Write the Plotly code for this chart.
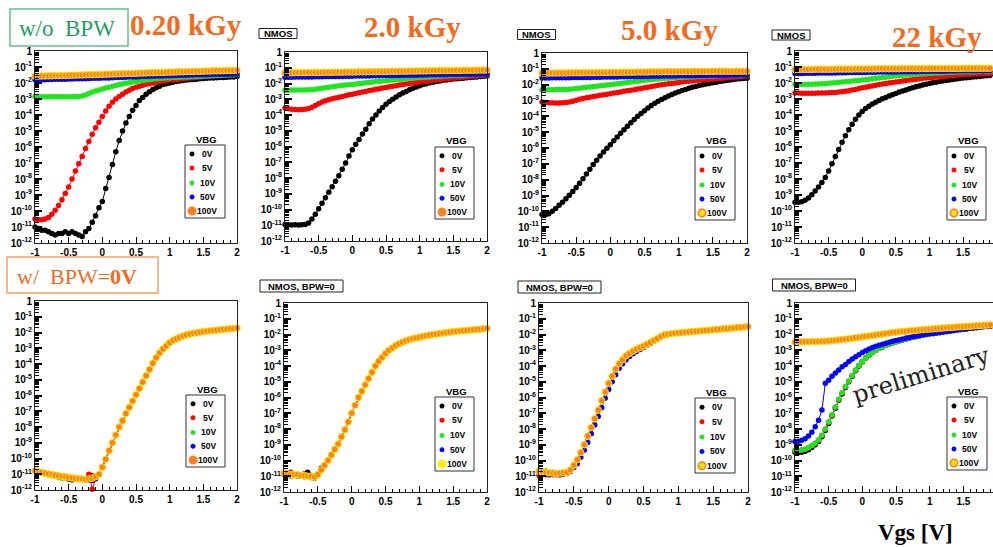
import plotly.graph_objects as go

# ---------------- data (log10 of drain current, per VBG) ----------------
VGS = [-1.0, -0.95, -0.9, -0.85, -0.8, -0.75, -0.7, -0.65, -0.6, -0.55,
       -0.5, -0.45, -0.4, -0.35, -0.3, -0.25, -0.2, -0.15, -0.1, -0.05,
       0.0, 0.05, 0.1, 0.15, 0.2, 0.25, 0.3, 0.35, 0.4, 0.45,
       0.5, 0.55, 0.6, 0.65, 0.7, 0.75, 0.8, 0.85, 0.9, 0.95,
       1.0, 1.05, 1.1, 1.15, 1.2, 1.25, 1.3, 1.35, 1.4, 1.45,
       1.5, 1.55, 1.6, 1.65, 1.7, 1.75, 1.8, 1.85, 1.9, 1.95, 2.0]
VBG = ["0V", "5V", "10V", "50V", "100V"]
Y_TICK_EXP = [0, -1, -2, -3, -4, -5, -6, -7, -8, -9, -10, -11, -12]
X_TICKS = [-1, -0.5, 0, 0.5, 1, 1.5, 2]
X_TICK_TEXT = ["-1", "-0.5", "0", "0.5", "1", "1.5", "2"]

# --- top row: w/o BPW ---
T1_0V = [-11.0, -11.1, -11.2, -11.2, -11.3, -11.4, -11.5, -11.4, -11.4, -11.3,
         -11.4, -11.3, -11.4, -11.5, -11.6, -11.3, -11.1, -10.7, -10.3, -9.8,
         -9.4, -8.6, -7.9, -7.1, -6.3, -5.6, -5.0, -4.5, -4.1, -3.7,
         -3.4, -3.1, -2.9, -2.7, -2.55, -2.4, -2.3, -2.2, -2.1, -2.05,
         -2.0, -1.95, -1.9, -1.88, -1.85, -1.82, -1.8, -1.78, -1.76, -1.74,
         -1.72, -1.7, -1.69, -1.68, -1.67, -1.66, -1.65, -1.64, -1.63, -1.62, -1.6]
T1_5V = [-10.5, -10.55, -10.55, -10.5, -10.4, -10.2, -9.95, -9.65, -9.3, -8.9,
         -8.5, -8.0, -7.5, -7.05, -6.6, -6.1, -5.65, -5.2, -4.8, -4.45,
         -4.1, -3.75, -3.45, -3.2, -3.0, -2.85, -2.7, -2.57, -2.45, -2.35,
         -2.26, -2.2, -2.14, -2.08, -2.04, -2.0, -1.96, -1.92, -1.88, -1.85,
         -1.82, -1.8, -1.78, -1.75, -1.73, -1.71, -1.69, -1.67, -1.65, -1.63,
         -1.61, -1.6, -1.58, -1.57, -1.55, -1.54, -1.52, -1.51, -1.5, -1.48, -1.47]
T1_10V = [-2.85, -2.86, -2.86, -2.86, -2.86, -2.86, -2.86, -2.86, -2.86, -2.86,
          -2.86, -2.86, -2.85, -2.85, -2.82, -2.75, -2.65, -2.57, -2.5, -2.43,
          -2.37, -2.31, -2.26, -2.2, -2.15, -2.1, -2.06, -2.02, -1.98, -1.94,
          -1.9, -1.87, -1.84, -1.81, -1.78, -1.76, -1.74, -1.72, -1.7, -1.69,
          -1.68, -1.66, -1.65, -1.64, -1.63, -1.62, -1.61, -1.6, -1.59, -1.58,
          -1.57, -1.56, -1.55, -1.54, -1.53, -1.52, -1.51, -1.5, -1.49, -1.48, -1.47]
T1_50V = [-1.80, -1.80, -1.79, -1.79, -1.78, -1.78, -1.77, -1.77, -1.76, -1.76,
          -1.75, -1.75, -1.74, -1.74, -1.73, -1.73, -1.72, -1.71, -1.71, -1.70,
          -1.69, -1.68, -1.68, -1.67, -1.66, -1.65, -1.65, -1.64, -1.63, -1.62,
          -1.62, -1.61, -1.60, -1.59, -1.59, -1.58, -1.57, -1.56, -1.56, -1.55,
          -1.54, -1.54, -1.53, -1.52, -1.52, -1.51, -1.50, -1.50, -1.49, -1.49,
          -1.48, -1.48, -1.47, -1.47, -1.46, -1.46, -1.45, -1.45, -1.44, -1.44, -1.43]
T1_100V = [-1.57, -1.57, -1.56, -1.56, -1.55, -1.55, -1.54, -1.54, -1.53, -1.53,
           -1.52, -1.51, -1.51, -1.50, -1.50, -1.49, -1.48, -1.48, -1.47, -1.46,
           -1.46, -1.45, -1.44, -1.44, -1.43, -1.42, -1.42, -1.41, -1.40, -1.40,
           -1.39, -1.38, -1.38, -1.37, -1.36, -1.36, -1.35, -1.34, -1.34, -1.33,
           -1.32, -1.32, -1.31, -1.30, -1.30, -1.29, -1.28, -1.28, -1.27, -1.27,
           -1.26, -1.25, -1.25, -1.24, -1.24, -1.23, -1.23, -1.22, -1.22, -1.21, -1.20]

T2_0V = [-10.95, -10.97, -10.98, -10.97, -10.98, -10.97, -10.95, -10.85, -10.6, -10.3,
         -9.95, -9.6, -9.25, -8.9, -8.55, -8.2, -7.85, -7.45, -7.05, -6.6,
         -6.2, -5.85, -5.55, -5.2, -4.9, -4.55, -4.25, -4.0, -3.75, -3.52,
         -3.32, -3.15, -3.0, -2.85, -2.72, -2.6, -2.5, -2.4, -2.3, -2.22,
         -2.14, -2.07, -2.01, -1.96, -1.92, -1.88, -1.84, -1.8, -1.77, -1.74,
         -1.72, -1.7, -1.68, -1.66, -1.64, -1.62, -1.6, -1.58, -1.56, -1.54, -1.52]
T2_5V = [-3.55, -3.6, -3.63, -3.65, -3.66, -3.65, -3.63, -3.58, -3.5, -3.4,
         -3.28, -3.18, -3.1, -3.03, -2.97, -2.92, -2.87, -2.82, -2.77, -2.72,
         -2.68, -2.63, -2.58, -2.54, -2.5, -2.45, -2.41, -2.37, -2.33, -2.29,
         -2.25, -2.21, -2.17, -2.14, -2.1, -2.07, -2.03, -2.0, -1.97, -1.94,
         -1.91, -1.88, -1.85, -1.82, -1.8, -1.77, -1.75, -1.72, -1.7, -1.68,
         -1.66, -1.64, -1.62, -1.6, -1.58, -1.56, -1.54, -1.52, -1.5, -1.48, -1.46]
T2_10V = [-2.43, -2.43, -2.42, -2.42, -2.42, -2.41, -2.41, -2.4, -2.39, -2.36,
          -2.33, -2.3, -2.27, -2.24, -2.21, -2.18, -2.15, -2.12, -2.1, -2.08,
          -2.06, -2.03, -2.0, -1.98, -1.95, -1.93, -1.9, -1.88, -1.86, -1.84,
          -1.82, -1.8, -1.78, -1.76, -1.74, -1.72, -1.7, -1.68, -1.66, -1.64,
          -1.62, -1.61, -1.6, -1.58, -1.57, -1.56, -1.55, -1.53, -1.52, -1.51,
          -1.5, -1.49, -1.48, -1.47, -1.46, -1.45, -1.44, -1.43, -1.42, -1.41, -1.4]
T2_50V = [-1.60, -1.60, -1.60, -1.59, -1.59, -1.59, -1.58, -1.58, -1.58, -1.57,
          -1.57, -1.57, -1.56, -1.56, -1.56, -1.55, -1.55, -1.55, -1.54, -1.54,
          -1.54, -1.53, -1.53, -1.52, -1.52, -1.52, -1.51, -1.51, -1.51, -1.50,
          -1.50, -1.50, -1.49, -1.49, -1.49, -1.48, -1.48, -1.47, -1.47, -1.47,
          -1.46, -1.46, -1.46, -1.45, -1.45, -1.45, -1.44, -1.44, -1.44, -1.43,
          -1.43, -1.43, -1.42, -1.42, -1.42, -1.41, -1.41, -1.41, -1.40, -1.40, -1.40]
T2_100V = [-1.32, -1.32, -1.32, -1.31, -1.31, -1.31, -1.31, -1.30, -1.30, -1.30,
           -1.30, -1.29, -1.29, -1.29, -1.29, -1.28, -1.28, -1.28, -1.27, -1.27,
           -1.27, -1.27, -1.26, -1.26, -1.26, -1.25, -1.25, -1.25, -1.24, -1.24,
           -1.24, -1.23, -1.23, -1.23, -1.22, -1.22, -1.22, -1.21, -1.21, -1.21,
           -1.20, -1.20, -1.20, -1.19, -1.19, -1.19, -1.18, -1.18, -1.18, -1.17,
           -1.17, -1.17, -1.17, -1.16, -1.16, -1.16, -1.16, -1.15, -1.15, -1.15, -1.15]

T3_0V = [-10.2, -10.22, -10.15, -10.0, -9.82, -9.62, -9.42, -9.2, -8.98, -8.75,
         -8.5, -8.22, -7.95, -7.65, -7.35, -7.05, -6.77, -6.5, -6.25, -6.02,
         -5.8, -5.55, -5.3, -5.07, -4.85, -4.62, -4.4, -4.2, -4.0, -3.82,
         -3.65, -3.48, -3.32, -3.18, -3.05, -2.93, -2.82, -2.72, -2.62, -2.53,
         -2.45, -2.37, -2.3, -2.23, -2.17, -2.11, -2.06, -2.01, -1.96, -1.92,
         -1.88, -1.84, -1.8, -1.77, -1.74, -1.71, -1.68, -1.65, -1.63, -1.61, -1.59]
T3_5V = [-3.1, -3.12, -3.14, -3.15, -3.16, -3.16, -3.15, -3.13, -3.1, -3.05,
         -2.98, -2.92, -2.87, -2.83, -2.79, -2.75, -2.71, -2.67, -2.63, -2.6,
         -2.57, -2.53, -2.49, -2.46, -2.42, -2.39, -2.35, -2.32, -2.28, -2.25,
         -2.2, -2.16, -2.12, -2.08, -2.04, -2.01, -1.98, -1.95, -1.92, -1.89,
         -1.86, -1.83, -1.8, -1.78, -1.76, -1.74, -1.72, -1.7, -1.68, -1.66,
         -1.65, -1.63, -1.61, -1.59, -1.57, -1.55, -1.53, -1.51, -1.49, -1.47, -1.45]
T3_10V = [-2.33, -2.33, -2.32, -2.32, -2.31, -2.31, -2.3, -2.3, -2.29, -2.27,
          -2.25, -2.22, -2.2, -2.17, -2.15, -2.12, -2.1, -2.07, -2.05, -2.02,
          -2.0, -1.98, -1.95, -1.92, -1.89, -1.86, -1.83, -1.8, -1.78, -1.75,
          -1.72, -1.7, -1.68, -1.66, -1.64, -1.62, -1.6, -1.59, -1.58, -1.57,
          -1.55, -1.54, -1.53, -1.52, -1.51, -1.5, -1.49, -1.48, -1.47, -1.46,
          -1.45, -1.44, -1.43, -1.42, -1.42, -1.41, -1.4, -1.4, -1.39, -1.38, -1.38]
T3_50V = [-1.58, -1.58, -1.58, -1.57, -1.57, -1.57, -1.56, -1.56, -1.56, -1.55,
          -1.55, -1.55, -1.54, -1.54, -1.54, -1.53, -1.53, -1.53, -1.52, -1.52,
          -1.52, -1.51, -1.51, -1.50, -1.50, -1.50, -1.49, -1.49, -1.49, -1.48,
          -1.48, -1.48, -1.47, -1.47, -1.47, -1.46, -1.46, -1.45, -1.45, -1.45,
          -1.44, -1.44, -1.44, -1.43, -1.43, -1.43, -1.42, -1.42, -1.42, -1.41,
          -1.41, -1.41, -1.40, -1.40, -1.40, -1.39, -1.39, -1.39, -1.38, -1.38, -1.38]
T3_100V = [-1.27, -1.27, -1.27, -1.27, -1.26, -1.26, -1.26, -1.26, -1.25, -1.25,
           -1.25, -1.25, -1.24, -1.24, -1.24, -1.24, -1.23, -1.23, -1.23, -1.23,
           -1.22, -1.22, -1.22, -1.22, -1.21, -1.21, -1.21, -1.21, -1.20, -1.20,
           -1.20, -1.20, -1.19, -1.19, -1.19, -1.19, -1.18, -1.18, -1.18, -1.18,
           -1.17, -1.17, -1.17, -1.17, -1.17, -1.16, -1.16, -1.16, -1.16, -1.16,
           -1.16, -1.15, -1.15, -1.15, -1.15, -1.15, -1.15, -1.15, -1.15, -1.15, -1.15]

T4_0V = [-9.45, -9.46, -9.42, -9.33, -9.18, -8.98, -8.75, -8.5, -8.22, -7.9,
         -7.5, -7.05, -6.6, -6.15, -5.7, -5.3, -4.92, -4.58, -4.27, -4.0,
         -3.78, -3.6, -3.45, -3.32, -3.2, -3.09, -2.99, -2.9, -2.81, -2.73,
         -2.65, -2.57, -2.5, -2.43, -2.36, -2.3, -2.24, -2.18, -2.13, -2.08,
         -2.03, -1.99, -1.95, -1.91, -1.87, -1.84, -1.81, -1.78, -1.75, -1.72,
         -1.69, -1.67, -1.65, -1.63, -1.61, -1.59, -1.57, -1.55, -1.53, -1.51, -1.5]
T4_5V = [-2.62, -2.63, -2.64, -2.64, -2.64, -2.64, -2.64, -2.63, -2.63, -2.62,
         -2.61, -2.6, -2.59, -2.57, -2.55, -2.52, -2.48, -2.44, -2.4, -2.35,
         -2.3, -2.26, -2.22, -2.18, -2.14, -2.1, -2.06, -2.03, -2.0, -1.97,
         -1.94, -1.91, -1.88, -1.85, -1.82, -1.79, -1.76, -1.73, -1.71, -1.69,
         -1.67, -1.65, -1.63, -1.61, -1.59, -1.57, -1.55, -1.53, -1.51, -1.49,
         -1.47, -1.46, -1.45, -1.44, -1.43, -1.42, -1.41, -1.4, -1.39, -1.38, -1.37]
T4_10V = [-2.08, -2.09, -2.09, -2.09, -2.08, -2.08, -2.07, -2.06, -2.05, -2.04,
          -2.02, -2.0, -1.98, -1.96, -1.94, -1.92, -1.9, -1.88, -1.86, -1.84,
          -1.81, -1.79, -1.76, -1.73, -1.71, -1.68, -1.66, -1.64, -1.61, -1.58,
          -1.55, -1.53, -1.51, -1.5, -1.48, -1.47, -1.45, -1.44, -1.43, -1.42,
          -1.4, -1.39, -1.38, -1.37, -1.36, -1.35, -1.34, -1.33, -1.32, -1.31,
          -1.3, -1.3, -1.29, -1.29, -1.28, -1.28, -1.27, -1.27, -1.26, -1.26, -1.25]
T4_50V = [-1.40, -1.40, -1.40, -1.39, -1.39, -1.39, -1.39, -1.38, -1.38, -1.38,
          -1.37, -1.37, -1.37, -1.36, -1.36, -1.36, -1.35, -1.35, -1.35, -1.34,
          -1.34, -1.34, -1.33, -1.33, -1.33, -1.32, -1.32, -1.32, -1.31, -1.31,
          -1.31, -1.30, -1.30, -1.30, -1.29, -1.29, -1.29, -1.28, -1.28, -1.28,
          -1.27, -1.27, -1.27, -1.26, -1.26, -1.26, -1.25, -1.25, -1.25, -1.24,
          -1.24, -1.24, -1.24, -1.23, -1.23, -1.23, -1.23, -1.22, -1.22, -1.22, -1.22]
T4_100V = [-1.15, -1.15, -1.15, -1.15, -1.15, -1.15, -1.14, -1.14, -1.14, -1.14,
           -1.14, -1.14, -1.13, -1.13, -1.13, -1.13, -1.13, -1.13, -1.12, -1.12,
           -1.12, -1.12, -1.12, -1.12, -1.12, -1.11, -1.11, -1.11, -1.11, -1.11,
           -1.11, -1.11, -1.10, -1.10, -1.10, -1.10, -1.10, -1.10, -1.10, -1.10,
           -1.09, -1.09, -1.09, -1.09, -1.09, -1.09, -1.09, -1.09, -1.09, -1.09,
           -1.08, -1.08, -1.08, -1.08, -1.08, -1.08, -1.08, -1.08, -1.08, -1.08, -1.08]

# --- bottom row: BPW = 0 V ---
# panel 1: Vgs -1..0 per VBG, then the common part 0.05..2
B1_LOW_0V = [-10.8, -10.85, -10.9, -10.95, -11.0, -11.05, -11.1, -11.12, -11.15, -11.2,
             -11.3, -11.35, -11.3, -11.28, -11.3, -11.32, -11.28, -11.1, -11.2, -11.0, -10.55]
B1_LOW_5V = [-10.75, -10.8, -10.9, -10.92, -11.0, -11.02, -11.1, -11.1, -11.15, -11.2,
             -11.22, -11.25, -11.28, -11.3, -11.28, -11.3, -11.0, -11.95, -11.3, -11.0, -10.55]
B1_LOW_10V = [-10.8, -10.88, -10.92, -10.98, -11.05, -11.1, -11.15, -11.2, -11.25, -11.22,
              -11.2, -11.3, -11.3, -11.35, -11.32, -11.35, -11.3, -11.25, -11.2, -11.0, -10.55]
B1_LOW_50V = [-10.8, -10.85, -10.88, -10.9, -10.95, -11.0, -11.05, -11.08, -11.12, -11.15,
              -11.25, -11.28, -11.3, -11.3, -11.33, -11.35, -11.38, -11.4, -11.25, -11.0, -10.55]
B1_LOW_100V = [-10.76, -10.82, -10.88, -10.93, -10.98, -11.02, -11.06, -11.1, -11.13, -11.16,
               -11.2, -11.23, -11.26, -11.28, -11.3, -11.32, -11.3, -11.25, -11.15, -11.0, -10.55]
B1_RISE = [-10.05, -9.5, -9.0, -8.5, -8.0, -7.6, -7.15, -6.75, -6.35, -5.95,
           -5.55, -5.15, -4.75, -4.35, -3.95, -3.6, -3.3, -3.05, -2.85, -2.65,
           -2.5, -2.4, -2.3, -2.22, -2.15, -2.1, -2.05, -2.02, -1.98, -1.95,
           -1.92, -1.9, -1.87, -1.85, -1.82, -1.8, -1.78, -1.76, -1.74, -1.72]

# panel 2: Vgs -1..-0.45 per VBG, then common -0.4..2
B2_LOW_0V = [-10.85, -10.8, -10.95, -10.9, -10.95, -10.9, -10.85, -10.75, -10.95, -11.0, -10.95, -10.6]
B2_LOW_5V = [-10.75, -10.9, -10.75, -10.95, -10.9, -11.0, -10.9, -10.95, -11.05, -11.0, -10.9, -10.6]
B2_LOW_10V = [-10.9, -10.95, -11.0, -10.95, -11.0, -11.0, -11.05, -11.0, -11.1, -11.15, -10.95, -10.6]
B2_LOW_50V = [-10.85, -10.9, -10.95, -10.9, -10.95, -10.98, -11.0, -11.02, -11.05, -11.1, -10.85, -10.5]
B2_LOW_100V = [-10.8, -10.85, -10.9, -10.9, -10.9, -10.95, -10.95, -11.0, -11.0, -11.05, -10.9, -10.6]
B2_RISE = [-10.3, -10.0, -9.65, -9.3, -8.95, -8.5, -8.05, -7.55,
           -7.0, -6.5, -6.0, -5.6, -5.2, -4.8, -4.4, -4.0, -3.7, -3.45,
           -3.2, -3.0, -2.85, -2.7, -2.58, -2.48, -2.4, -2.33, -2.27, -2.22,
           -2.17, -2.12, -2.08, -2.04, -2.0, -1.97, -1.94, -1.91, -1.88, -1.85,
           -1.82, -1.8, -1.78, -1.76, -1.74, -1.72, -1.7, -1.68, -1.66, -1.64, -1.62]

# panel 3: Vgs -1..-0.55 per VBG, then -0.5..2
B3_LOW_0V = [-10.75, -10.8, -10.7, -10.85, -10.8, -10.85, -10.9, -10.8, -10.8, -10.65]
B3_LOW_5V = [-10.95, -10.85, -10.9, -10.8, -10.9, -10.85, -10.9, -10.85, -10.8, -10.65]
B3_LOW_10V = [-10.6, -10.7, -10.65, -10.8, -10.75, -10.85, -10.8, -10.8, -10.75, -10.6]
B3_LOW_50V = [-10.8, -10.85, -10.85, -10.9, -10.88, -10.9, -10.88, -10.85, -10.82, -10.7]
B3_LOW_100V = [-10.7, -10.72, -10.75, -10.78, -10.8, -10.82, -10.8, -10.78, -10.75, -10.6]
B3_RISE = [-10.3, -9.95, -9.5, -9.0, -8.45, -7.9, -7.35, -6.8, -6.2, -5.65,
           -5.1, -4.65, -4.2, -3.85, -3.6, -3.35, -3.2, -3.05, -2.93, -2.83,
           -2.73, -2.62, -2.5, -2.38, -2.26, -2.12, -2.02, -1.98, -1.95, -1.92,
           -1.9, -1.88, -1.86, -1.84, -1.82, -1.8, -1.78, -1.76, -1.74, -1.72,
           -1.7, -1.68, -1.66, -1.64, -1.62, -1.6, -1.58, -1.56, -1.54, -1.52, -1.5]
B3_RISE_50V = [-10.45, -10.2, -9.8, -9.35, -8.85, -8.3, -7.75, -7.2, -6.65, -6.05,
               -5.5, -5.0, -4.55, -4.15, -3.85, -3.6, -3.4, -3.22, -3.08, -2.95,
               -2.83, -2.7, -2.57, -2.43, -2.3, -2.16, -2.05, -2.0, -1.97, -1.94,
               -1.91, -1.89, -1.87, -1.85, -1.83, -1.81, -1.79, -1.77, -1.75, -1.73,
               -1.71, -1.69, -1.67, -1.65, -1.63, -1.61, -1.59, -1.57, -1.55, -1.53, -1.51]

# panel 4 (preliminary)
B4_LOW_0V = [-9.48, -9.5, -9.47, -9.42, -9.32, -9.18, -9.0, -8.8, -8.5, -8.1,
             -7.65, -7.18, -6.68, -6.18, -5.77, -5.37, -5.0, -4.65, -4.3, -4.0, -3.73]
B4_LOW_5V = [-9.38, -9.37, -9.35, -9.3, -9.2, -9.07, -8.92, -8.72, -8.42, -8.02,
             -7.57, -7.12, -6.62, -6.12, -5.72, -5.32, -4.97, -4.62, -4.27, -3.97, -3.71]
B4_LOW_10V = [-9.35, -9.35, -9.33, -9.28, -9.18, -9.05, -8.9, -8.7, -8.4, -8.0,
              -7.55, -7.1, -6.6, -6.1, -5.7, -5.3, -4.95, -4.6, -4.25, -3.95, -3.7]
B4_RISE = [-3.5, -3.3, -3.15, -3.0, -2.88, -2.77, -2.68, -2.6, -2.53, -2.46,
           -2.4, -2.34, -2.28, -2.22, -2.17, -2.12, -2.08, -2.04, -2.0, -1.96,
           -1.93, -1.9, -1.87, -1.84, -1.81, -1.78, -1.75, -1.72, -1.69, -1.66,
           -1.63, -1.6, -1.58, -1.55, -1.53, -1.5, -1.48, -1.46, -1.44, -1.42]
B4_50V = [-8.8, -8.78, -8.72, -8.62, -8.45, -8.2, -7.85, -7.45, -6.8, -5.1,
          -4.9, -4.65, -4.45, -4.25, -4.05, -3.9, -3.72, -3.55, -3.42, -3.28,
          -3.15, -3.03, -2.92, -2.83, -2.75, -2.68, -2.62, -2.55, -2.49, -2.43,
          -2.38, -2.33, -2.28, -2.23, -2.19, -2.14, -2.1, -2.06, -2.02, -1.99,
          -1.96, -1.93, -1.9, -1.87, -1.84, -1.81, -1.78, -1.75, -1.72, -1.69,
          -1.66, -1.63, -1.61, -1.58, -1.56, -1.53, -1.51, -1.49, -1.47, -1.45, -1.43]
B4_100V = [-2.48, -2.47, -2.47, -2.46, -2.46, -2.45, -2.45, -2.44, -2.43, -2.42,
           -2.41, -2.39, -2.37, -2.35, -2.32, -2.3, -2.27, -2.24, -2.21, -2.18,
           -2.15, -2.12, -2.09, -2.06, -2.03, -2.0, -1.97, -1.94, -1.91, -1.88,
           -1.86, -1.83, -1.81, -1.79, -1.77, -1.75, -1.73, -1.71, -1.69, -1.67,
           -1.66, -1.64, -1.62, -1.6, -1.59, -1.57, -1.55, -1.54, -1.52, -1.51,
           -1.5, -1.48, -1.47, -1.46, -1.44, -1.43, -1.42, -1.4, -1.39, -1.38, -1.36]

PANEL_SERIES = [
    [T1_0V, T1_5V, T1_10V, T1_50V, T1_100V],
    [T2_0V, T2_5V, T2_10V, T2_50V, T2_100V],
    [T3_0V, T3_5V, T3_10V, T3_50V, T3_100V],
    [T4_0V, T4_5V, T4_10V, T4_50V, T4_100V],
    [B1_LOW_0V + B1_RISE, B1_LOW_5V + B1_RISE, B1_LOW_10V + B1_RISE,
     B1_LOW_50V + B1_RISE, B1_LOW_100V + B1_RISE],
    [B2_LOW_0V + B2_RISE, B2_LOW_5V + B2_RISE, B2_LOW_10V + B2_RISE,
     B2_LOW_50V + B2_RISE, B2_LOW_100V + B2_RISE],
    [B3_LOW_0V + B3_RISE, B3_LOW_5V + B3_RISE, B3_LOW_10V + B3_RISE,
     B3_LOW_50V + B3_RISE_50V, B3_LOW_100V + B3_RISE],
    [B4_LOW_0V + B4_RISE, B4_LOW_5V + B4_RISE, B4_LOW_10V + B4_RISE, B4_50V, B4_100V],
]
for ps in PANEL_SERIES:
    for s in ps:
        assert len(s) == len(VGS), len(s)

# ---------------- layout geometry (pixels) ----------------
W, H = 993, 547
def fx(p): return p / W
def fy(p): return 1 - p / H

# left, right, top, bottom of each frame; last = x max shown
FRAMES = [(35, 237, 51, 243, 2.0), (285, 487, 52, 241, 2.0), (542, 747, 53, 243, 2.0),
          (795, 993, 51, 243, 1.946),
          (35, 237, 301, 490, 2.0), (284, 487, 303, 492, 2.0), (539, 748, 303, 492, 2.0),
          (795, 993, 303, 492, 1.94)]
LEGBOX = [(185, 145, 225, 218), (435, 147, 474, 219), (695, 147, 735, 220), (947, 147, 986, 220),
          (186, 395, 225, 467), (435, 397, 474, 471), (695, 398, 735, 473), (947, 397, 987, 470)]
LEG100 = ["fill", "fill", "ring", "ring", "fill", "yellow", "ring", "ring"]

COLORS = ["#000000", "#ff0000", "#1ee61e", "#0000ff", "#ff7f1e"]
ORANGE = "#f26b1d"

fig = go.Figure()
layout = dict(width=W, height=H, margin=dict(l=0, r=0, t=0, b=0), autosize=False,
              paper_bgcolor="white", plot_bgcolor="white", template="none",
              showlegend=False)

tickfont = dict(family="Liberation Sans", size=10, color="black", weight="bold")
ytext = ["1"] + ["10<sup>%d</sup>" % e for e in Y_TICK_EXP[1:]]
yvals = [10.0 ** e for e in Y_TICK_EXP]

shapes, annots = [], []
for i, (frame, series) in enumerate(zip(FRAMES, PANEL_SERIES)):
    l, r, t, b, xmax = frame
    ax = "" if i == 0 else str(i + 1)
    for k, lab in enumerate(VBG):
        ys = [10.0 ** v for v in series[k]]
        if k == 4:
            marker = dict(color=COLORS[k], size=6.5, line=dict(color="#ffe600", width=1))
        else:
            marker = dict(color=COLORS[k], size=5.5)
        fig.add_trace(go.Scatter(x=VGS, y=ys, mode="lines+markers", name="VBG " + lab,
                                 xaxis="x" + ax, yaxis="y" + ax, cliponaxis=False,
                                 marker=marker, line=dict(color=COLORS[k], width=1)))
    layout["xaxis" + ax] = dict(
        domain=[fx(l), fx(r)], anchor="y" + ax, range=[-1, xmax], showgrid=False, zeroline=False,
        showline=True, linecolor="#222", linewidth=1, mirror=True, automargin=False,
        ticks="inside", ticklen=6, tickwidth=1, tickcolor="black",
        tickmode="array", tickvals=X_TICKS, ticktext=X_TICK_TEXT, tickfont=tickfont,
        minor=dict(ticks="inside", ticklen=3, tickcolor="black", dtick=0.1, tick0=0, showgrid=False))
    layout["yaxis" + ax] = dict(
        domain=[fy(b), fy(t)], anchor="x" + ax, type="log", range=[-12, 0], showgrid=False,
        zeroline=False, showline=True, linecolor="#222", linewidth=1, mirror=True, automargin=False,
        ticks="inside", ticklen=7, tickwidth=1.5, tickcolor="black",
        tickmode="array", tickvals=yvals, ticktext=ytext, tickfont=tickfont,
        minor=dict(ticks="inside", ticklen=4, tickwidth=1.2, tickcolor="black", dtick="D1", showgrid=False))

    # legend box
    bl, bt, br, bb = LEGBOX[i]
    shapes.append(dict(type="rect", xref="paper", yref="paper", x0=fx(bl), x1=fx(br), y0=fy(bb), y1=fy(bt),
                       line=dict(color="#333", width=1), fillcolor="white", layer="above"))
    annots.append(dict(x=fx(bl + 21), y=fy(bt - 6), text="<b>VBG</b>", showarrow=False,
                       xanchor="center", yanchor="middle", xref="paper", yref="paper",
                       font=dict(family="Liberation Sans", size=9.5, color="black")))
    hgt = bb - bt
    for k, (lab, frac) in enumerate(zip(VBG, [0.123, 0.315, 0.52, 0.712, 0.904])):
        cy = bt + frac * hgt
        cx = bl + 7
        if k < 4:
            d, fill, edge = 4.5, COLORS[k], COLORS[k]
        else:
            style = LEG100[i]
            d = 7.5
            fill = {"fill": COLORS[4], "ring": "#ffe600", "yellow": "#ffee00"}[style]
            edge = {"fill": COLORS[4], "ring": COLORS[4], "yellow": "#ffee00"}[style]
        shapes.append(dict(type="circle", xref="paper", yref="paper", layer="above",
                           x0=fx(cx - d / 2), x1=fx(cx + d / 2), y0=fy(cy + d / 2), y1=fy(cy - d / 2),
                           fillcolor=fill, line=dict(color=edge, width=1.5 if k == 4 else 0.5)))
        annots.append(dict(x=fx(bl + 22), y=fy(cy), text="<b>%s</b>" % lab, showarrow=False,
                           xanchor="center", yanchor="middle", xref="paper", yref="paper",
                           font=dict(family="Liberation Sans", size=8.5, color="black")))

# NMOS labels
def label_box(cx, cy, w, h, text, size):
    shapes.append(dict(type="rect", xref="paper", yref="paper", x0=fx(cx - w / 2), x1=fx(cx + w / 2),
                       y0=fy(cy + h / 2), y1=fy(cy - h / 2), line=dict(color="#222", width=1),
                       fillcolor="white", layer="above"))
    annots.append(dict(x=fx(cx), y=fy(cy), text="<b>%s</b>" % text, showarrow=False, xref="paper",
                       yref="paper", xanchor="center", yanchor="middle",
                       font=dict(family="Liberation Sans", size=size, color="black")))

for cx, cy in [(278, 33.5), (536.5, 34.5), (791, 35)]:
    label_box(cx, cy, 38, 10, "NMOS", 9.5)
for cx, cy in [(301.5, 286), (559.5, 287), (814, 285)]:
    label_box(cx, cy, 83, 12, "NMOS, BPW=0", 9.5)

# condition boxes
shapes.append(dict(type="rect", xref="paper", yref="paper", x0=fx(10), x1=fx(128), y0=fy(46), y1=fy(9),
                   line=dict(color="#5cc48c", width=1.5), fillcolor="white"))
annots.append(dict(x=fx(67), y=fy(28), text="w/o  BPW", showarrow=False, xref="paper", yref="paper",
                   xanchor="center", yanchor="middle",
                   font=dict(family="Liberation Serif", size=23, color="#1f9e63")))
shapes.append(dict(type="rect", xref="paper", yref="paper", x0=fx(7), x1=fx(158), y0=fy(293), y1=fy(257),
                   line=dict(color="#f5a068", width=1.5), fillcolor="white"))
annots.append(dict(x=fx(77), y=fy(276), text="w/  BPW=<b>0V</b>", showarrow=False, xref="paper",
                   yref="paper", xanchor="center", yanchor="middle",
                   font=dict(family="Liberation Serif", size=22, color=ORANGE)))

# dose titles
for cx, cy, txt in [(186, 25, "0.20 kGy"), (412, 27, "2.0 kGy"), (669, 30, "5.0 kGy"), (937, 37, "22 kGy")]:
    annots.append(dict(x=fx(cx), y=fy(cy), text="<b>%s</b>" % txt, showarrow=False, xref="paper",
                       yref="paper", xanchor="center", yanchor="middle",
                       font=dict(family="Liberation Serif", size=29, color=ORANGE)))

annots.append(dict(x=fx(921), y=fy(375), text="preliminary", textangle=-17, showarrow=False,
                   xref="paper", yref="paper", xanchor="center", yanchor="middle",
                   font=dict(family="DejaVu Serif", size=24, color="#222")))
annots.append(dict(x=fx(915), y=fy(532), text="<b>Vgs [V]</b>", showarrow=False, xref="paper",
                   yref="paper", xanchor="center", yanchor="middle",
                   font=dict(family="Liberation Serif", size=23, color="black")))

layout["shapes"] = shapes
layout["annotations"] = annots
fig.update_layout(**layout)
fig.write_html("out.html")
